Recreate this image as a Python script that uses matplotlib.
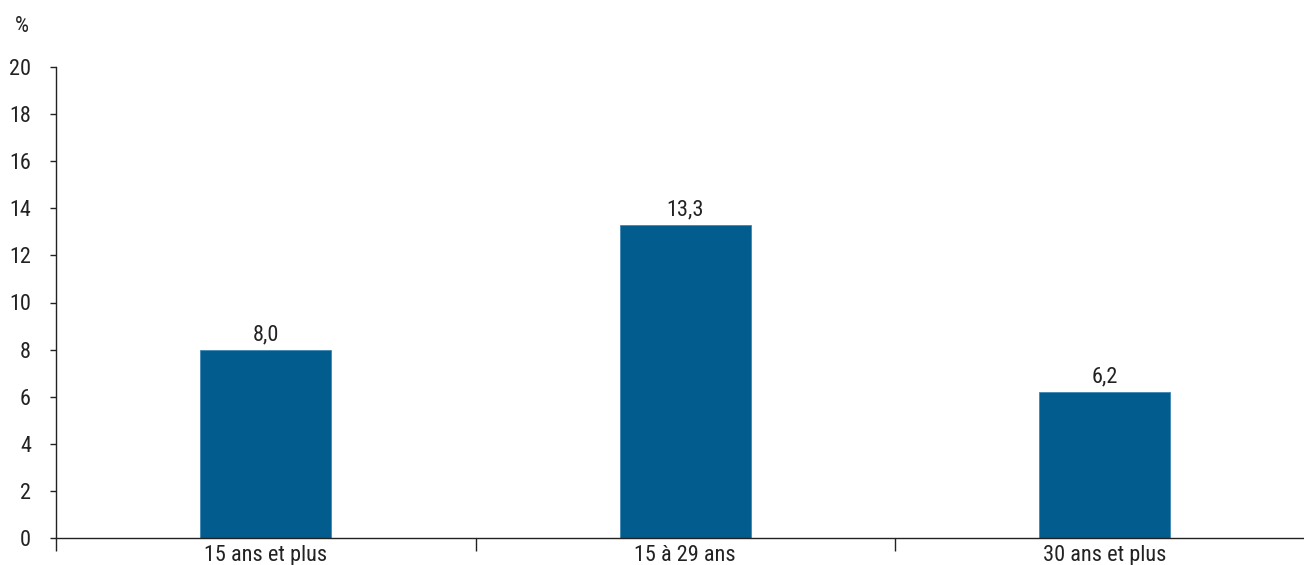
import matplotlib
matplotlib.use("Agg")
import matplotlib.pyplot as plt
from matplotlib import font_manager

categories = ["15 ans et plus", "15 à 29 ans", "30 ans et plus"]
values = [8.0, 13.3, 6.2]
yticks = [0, 2, 4, 6, 8, 10, 12, 14, 16, 18, 20]

fl = font_manager.fontManager.ttflist
names = {f.name for f in fl}
cands = ["Liberation Sans Narrow", "Roboto Condensed", "Open Sans Condensed", "Arial Narrow", "Noto Sans Condensed"]
fam = next((c for c in cands if c in names), None)
stretch = "normal"
if fam is None:
    cond = [f for f in fl if f.stretch in ("condensed", "semi-condensed", "extra-condensed") or
            (isinstance(f.stretch, int) and f.stretch < 500)]
    cond_names = [f.name for f in cond]
    for pref in ["Roboto", "Noto Sans", "Open Sans", "Liberation Sans", "DejaVu Sans"]:
        if pref in cond_names:
            fam = pref
            stretch = "condensed"
            break
if fam is None:
    fam = "Liberation Sans"
plt.rcParams["font.family"] = [fam, "DejaVu Sans"]
plt.rcParams["font.stretch"] = stretch
fs = 16 if stretch == "condensed" or fam != "Liberation Sans" else 16.5

W, H = 1304, 565
fig = plt.figure(figsize=(W / 100, H / 100), dpi=100)
left, right, top, bottom = 56, 1314.5, 67, 538
ax = fig.add_axes([left / W, (H - bottom) / H, (right - left) / W, (bottom - top) / H])

color = "#035C8E"
x = list(range(len(categories)))
bars = ax.bar(x, values, width=0.312, color=color, edgecolor="#3f86b4", linewidth=0.6, zorder=2)
for xi, v in zip(x, values):
    ax.annotate(f"{v:.1f}".replace(".", ","), (xi, v), xytext=(0, 3), textcoords="offset points",
                ha="center", va="bottom", fontsize=fs, color="#222222")

ax.set_xlim(-0.5, len(categories) - 0.5)
ax.set_ylim(0, 20)
ax.set_yticks(yticks)
ax.set_yticklabels([str(t) for t in yticks])
ax.tick_params(axis="y", direction="out", length=4, width=1, pad=14, labelsize=fs, colors="#222222")

ax.set_xticks([i - 0.5 for i in range(len(categories) + 1)])
ax.set_xticklabels([])
ax.set_xticks(x, minor=True)
ax.set_xticklabels(categories, minor=True)
ax.tick_params(axis="x", which="major", direction="out", length=9, width=1, colors="#222222")
ax.tick_params(axis="x", which="minor", length=0, pad=5, labelsize=fs, colors="#222222")

for s in ["top", "right"]:
    ax.spines[s].set_visible(False)
for s in ["left", "bottom"]:
    ax.spines[s].set_color("#222222")
    ax.spines[s].set_linewidth(1)

fig.text(22 / W, 1 - 27 / H, "%", ha="center", va="center", fontsize=fs, color="#222222")

fig.savefig("out.png", dpi=100)
